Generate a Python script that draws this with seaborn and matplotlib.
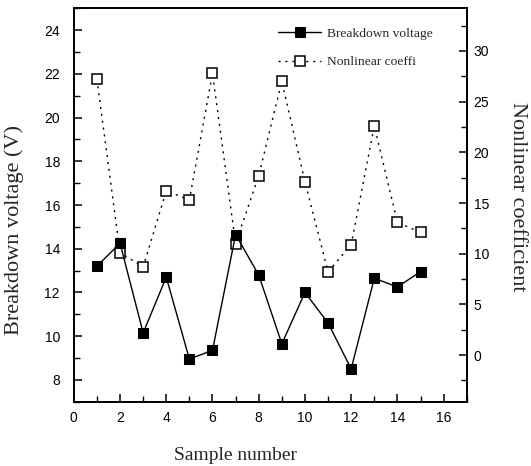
import matplotlib
matplotlib.use("Agg")
import matplotlib.pyplot as plt
import seaborn as sns
import pandas as pd
from matplotlib.ticker import MultipleLocator

# values
sample_number = [1, 2, 3, 4, 5, 6, 7, 8, 9, 10, 11, 12, 13, 14, 15]
breakdown_voltage = [13.2, 14.25, 10.15, 12.7, 8.95, 9.35, 14.65, 12.8, 9.65,
                     12.0, 10.6, 8.5, 12.65, 12.25, 12.95]
nonlinear_coeff = [27.2, 10.1, 8.7, 16.2, 15.3, 27.8, 11.0, 17.7, 27.0,
                   17.1, 8.2, 10.9, 22.6, 13.1, 12.1]

df = pd.DataFrame({
    "sample": sample_number,
    "voltage": breakdown_voltage,
    "coeff": nonlinear_coeff,
})


def main():
    sns.set_style("ticks")
    plt.rcParams["font.family"] = ["Liberation Sans", "DejaVu Sans"]
    serif = ["Liberation Serif", "DejaVu Serif"]

    fig = plt.figure(figsize=(5.31, 4.66), dpi=100)
    ax = fig.add_axes([0.139, 0.138, 0.740, 0.844])
    ax2 = ax.twinx()

    sns.lineplot(data=df, x="sample", y="coeff", ax=ax2, color="black",
                 linestyle=(0, (1.5, 3.5)), linewidth=1.0, marker="s",
                 markersize=7.5, markerfacecolor="white",
                 markeredgecolor="black", markeredgewidth=1.1,
                 label="Nonlinear coeffi", legend=False)
    sns.lineplot(data=df, x="sample", y="voltage", ax=ax, color="black",
                 linewidth=1.0, marker="s", markersize=7.5,
                 markerfacecolor="black", markeredgecolor="black",
                 label="Breakdown voltage", legend=False)

    # black series drawn above the open squares
    ax.set_zorder(ax2.get_zorder() + 1)
    ax.patch.set_visible(False)

    ax.set_xlim(0, 17)
    ax.set_ylim(7, 25)
    ax2.set_ylim(-4.6, 34.2)

    ax.xaxis.set_major_locator(MultipleLocator(2))
    ax.xaxis.set_minor_locator(MultipleLocator(1))
    ax.yaxis.set_major_locator(MultipleLocator(2))
    ax.yaxis.set_minor_locator(MultipleLocator(1))
    ax2.yaxis.set_major_locator(MultipleLocator(5))
    ax2.yaxis.set_minor_locator(MultipleLocator(2.5))

    for a in (ax, ax2):
        a.tick_params(which="major", direction="in", length=6, width=1.1,
                      labelsize=10, color="black", labelcolor="black")
        a.tick_params(which="minor", direction="in", length=4, width=1.0,
                      color="black")
        for sp in a.spines.values():
            sp.set_linewidth(1.3)
            sp.set_color("black")
    ax.tick_params(axis="y", which="both", right=False, pad=10)
    ax.tick_params(axis="x", which="both", top=False, pad=7)
    ax2.tick_params(axis="y", which="both", left=False, pad=5)

    ax.set_xlabel("Sample number", family=serif, fontsize=14)
    ax.set_ylabel("Breakdown voltage (V)", family=serif, fontsize=16,
                  va="center")
    ax2.set_ylabel("Nonlinear coefficient", family=serif, fontsize=16,
                   rotation=270, va="center")
    ax.xaxis.set_label_coords(0.411, -0.115)
    ax.yaxis.set_label_coords(-0.151, 0.436)
    ax2.yaxis.set_label_coords(1.13, 0.52)

    h1, l1 = ax.get_legend_handles_labels()
    h2, l2 = ax2.get_legend_handles_labels()
    ax.legend(h1 + h2, l1 + l2, loc="upper left",
              bbox_to_anchor=(0.52, 0.952), frameon=False,
              prop={"family": serif, "size": 9.7}, handlelength=3.2,
              handletextpad=0.4, labelspacing=1.2, borderpad=0,
              borderaxespad=0)

    fig.savefig("out.png", dpi=100)
    plt.close(fig)


if __name__ == "__main__":
    main()
